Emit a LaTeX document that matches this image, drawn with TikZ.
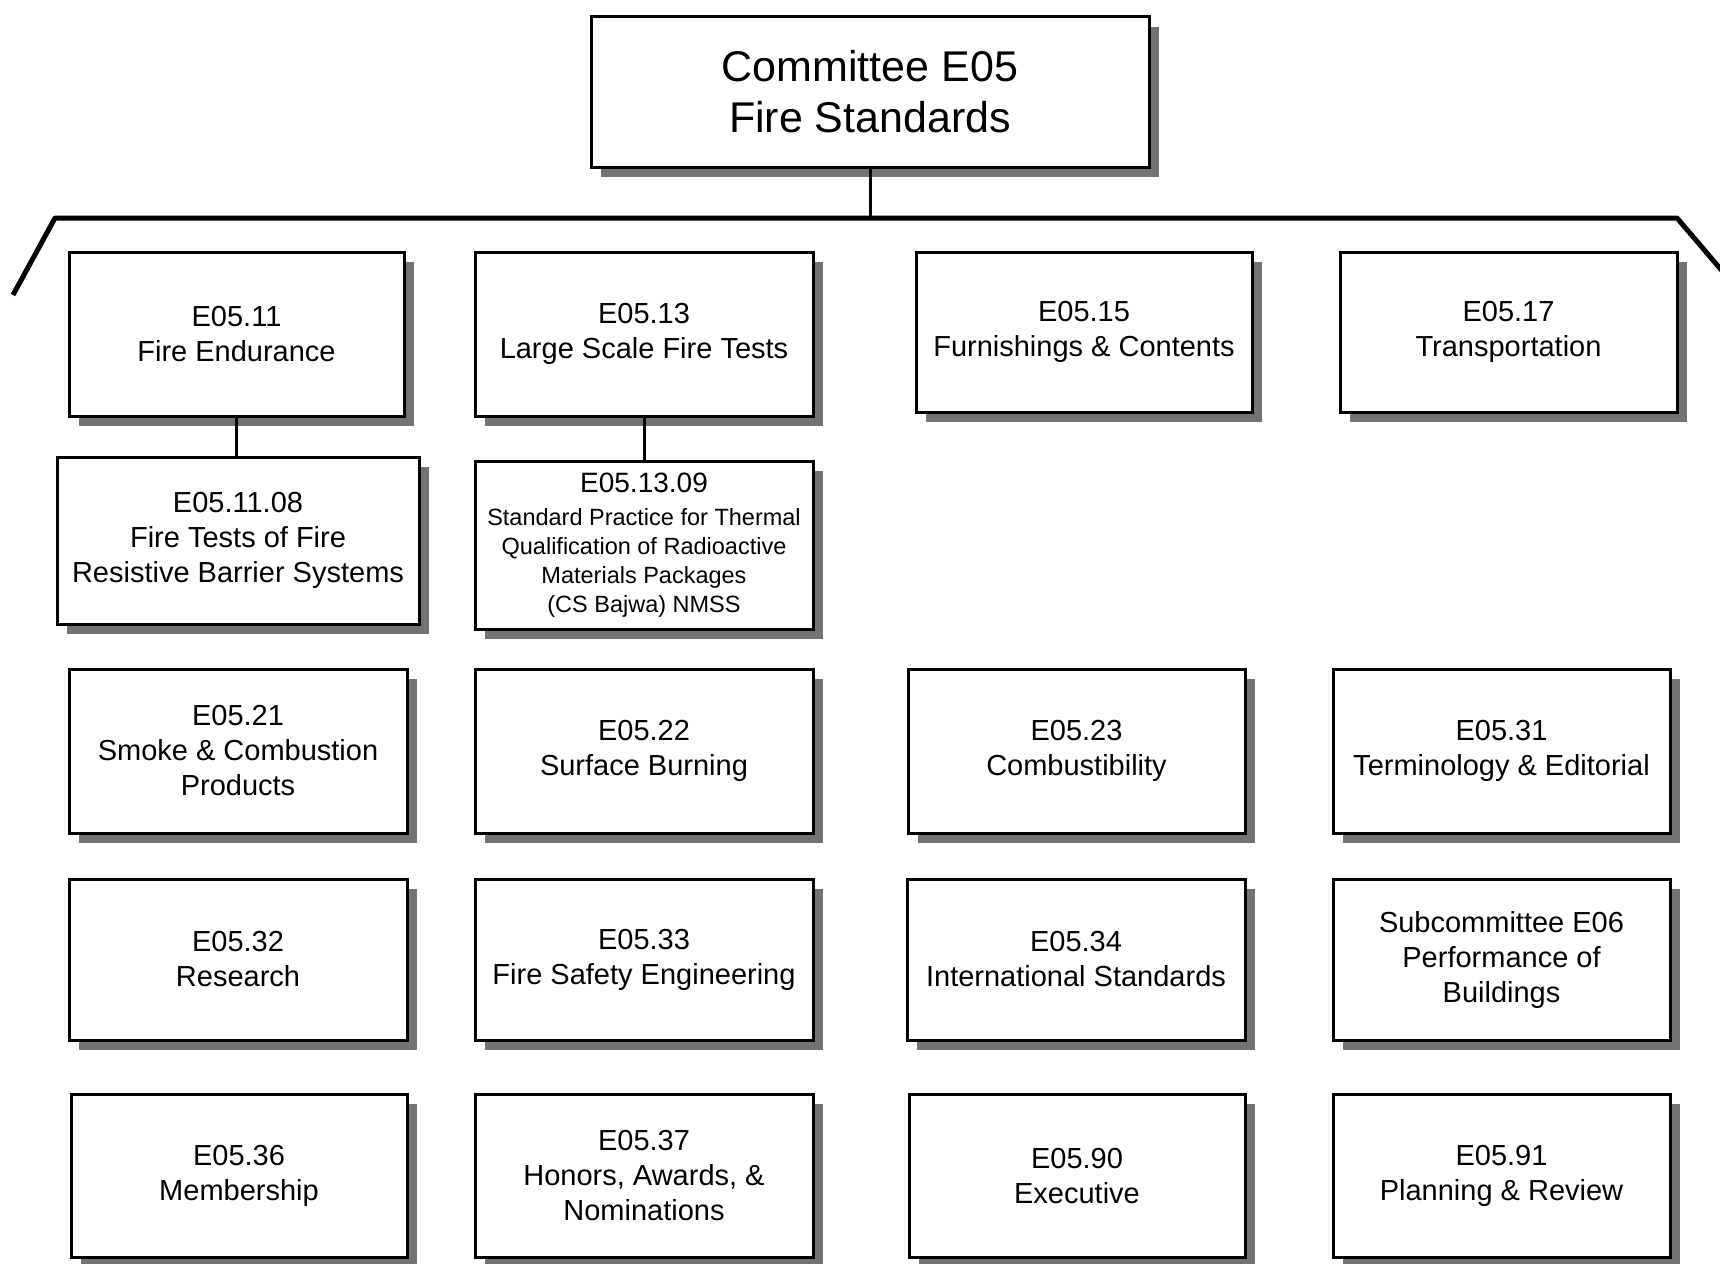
\documentclass[tikz,border=0pt]{standalone}
\usepackage{fontspec}
\setmainfont{Liberation Sans}
\usetikzlibrary{shadows}
\newcommand\orgnode[7][]{\node[orgbox, minimum width={#4-#3}, minimum height={#6-#5}, #1] (#2) at ({(#3+#4)/2},{(#5+#6)/2}) {#7};}
\begin{document}
\begin{tikzpicture}[x=1pt,y=-1pt,
  orgbox/.style={draw, line width=3pt, fill=white, align=center, inner sep=0pt,
    general shadow={fill=black!55, shadow xshift=10pt, shadow yshift=-10pt},
    font=\fontsize{29}{35}\selectfont},
  titletext/.style={font=\fontsize{43}{51}\selectfont},
  smalltext/.style={font=\fontsize{23.5}{29}\selectfont},
  link/.style={line width=3pt},
  barline/.style={line width=5pt, line join=round}]
\useasboundingbox (0,0) rectangle (1720,1263);
\clip (0,0) rectangle (1720,1263);

\orgnode[titletext]{top}{591}{1149}{17}{167}{Committee E05\\Fire Standards}

\orgnode{e0511}{69}{404}{252}{416}{E05.11\\Fire Endurance}
\orgnode{e0513}{475}{813}{252}{416}{E05.13\\Large Scale Fire Tests}
\orgnode{e0515}{916}{1252}{252}{412}{E05.15\\Furnishings \& Contents}
\orgnode{e0517}{1340}{1677}{252}{412}{E05.17\\Transportation}

\orgnode{e051108}{57}{419}{457}{624}{E05.11.08\\Fire Tests of Fire\\Resistive Barrier Systems}
\orgnode[smalltext]{e051309}{475}{813}{461}{629}{{\fontsize{28}{29}\selectfont E05.13.09}\\[4pt]Standard Practice for Thermal\\Qualification of Radioactive\\Materials Packages\\(CS Bajwa) NMSS}

\orgnode{e0521}{69}{407}{669}{833}{E05.21\\Smoke \& Combustion\\Products}
\orgnode{e0522}{475}{813}{669}{833}{E05.22\\Surface Burning}
\orgnode{e0523}{908}{1245}{669}{833}{E05.23\\Combustibility}
\orgnode{e0531}{1333}{1670}{669}{833}{E05.31\\Terminology \& Editorial}

\orgnode{e0532}{69}{407}{879}{1040}{E05.32\\Research}
\orgnode{e0533}{475}{813}{879}{1040}{E05.33\\Fire Safety Engineering}
\orgnode{e0534}{907}{1245}{879}{1040}{E05.34\\International Standards}
\orgnode{e06}{1333}{1670}{879}{1040}{Subcommittee E06\\Performance of\\Buildings}

\orgnode{e0536}{71}{407}{1094}{1257}{E05.36\\Membership}
\orgnode{e0537}{475}{813}{1094}{1257}{E05.37\\Honors, Awards, \&\\Nominations}
\orgnode{e0590}{909}{1245}{1094}{1257}{E05.90\\Executive}
\orgnode{e0591}{1333}{1670}{1094}{1257}{E05.91\\Planning \& Review}

\coordinate (barL) at (55,218);
\coordinate (barR) at (1677,218);
\coordinate (legL) at (13,295);
\coordinate (legR) at (1741,293);
\draw[barline] (legL) -- (barL) -- (barR) -- (legR);
\draw[link] (top.south) -- (top.south |- barL);
\draw[link] (e0511.south) -- (e0511.south |- e051108.north);
\draw[link] (e0513.south) -- (e0513.south |- e051309.north);
\end{tikzpicture}
\end{document}
